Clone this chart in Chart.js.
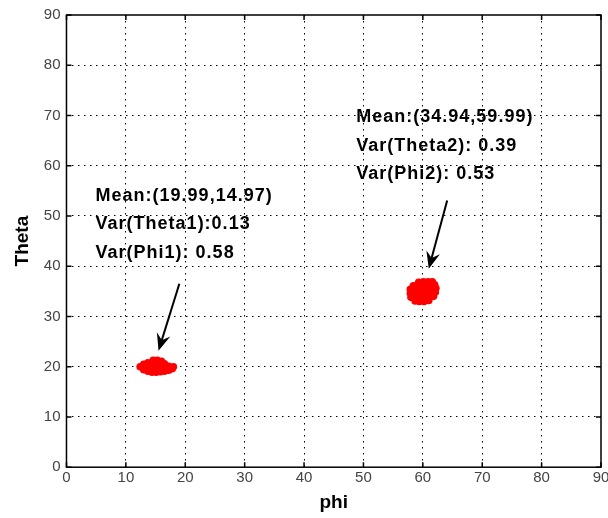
<!DOCTYPE html>
<html>
<head>
<meta charset="utf-8">
<script src="https://cdn.jsdelivr.net/npm/chart.js@4/dist/chart.umd.min.js"></script>
<style>
  html, body { margin: 0; padding: 0; background: #fff; }
  #wrap { width: 608px; height: 518px; }
</style>
</head>
<body>
<div id="wrap"><canvas id="grafico"></canvas></div>
<script>
// ticks
const ticksPhi = [0, 10, 20, 30, 40, 50, 60, 70, 80, 90];
const ticksTheta = [0, 10, 20, 30, 40, 50, 60, 70, 80, 90];

// cluster 1 (phi, theta)
const cluster1 = [
  [12.4, 20.0], [13.0, 19.4], [13.0, 20.5], [13.7, 19.1], [13.7, 19.9], [13.7, 20.8],
  [14.4, 18.9], [14.4, 19.7], [14.4, 20.5], [14.6, 21.3], [15.1, 18.9], [15.1, 19.7],
  [15.1, 20.5], [15.3, 21.3], [15.8, 19.0], [15.8, 19.8], [15.8, 20.6], [16.0, 21.1],
  [16.5, 19.1], [16.5, 19.9], [16.5, 20.6], [17.2, 19.3], [17.2, 20.1], [17.8, 19.6],
  [18.0, 20.0]
];

// cluster 2 (phi, theta)
const cluster2 = [
  [58.7, 33.1], [59.4, 33.0], [60.2, 33.0], [61.0, 33.2],
  [58.0, 33.8], [58.7, 33.8], [59.5, 33.8], [60.3, 33.8], [61.1, 33.8], [61.8, 34.0],
  [57.9, 34.6], [58.6, 34.6], [59.3, 34.6], [60.1, 34.6], [60.9, 34.6], [61.7, 34.6], [62.1, 34.8],
  [57.9, 35.4], [58.6, 35.4], [59.4, 35.4], [60.2, 35.4], [61.0, 35.4], [61.8, 35.4], [62.2, 35.6],
  [58.4, 36.1], [59.1, 36.2], [59.9, 36.2], [60.7, 36.2], [61.5, 36.2], [62.0, 36.3],
  [59.3, 36.8], [60.1, 36.9], [60.9, 36.9], [61.6, 36.9]
];

// annotations
const notes1 = ['Mean:(19.99,14.97)', 'Var(Theta1):0.13', 'Var(Phi1): 0.58'];
const notes2 = ['Mean:(34.94,59.99)', 'Var(Theta2): 0.39', 'Var(Phi2): 0.53'];
const notes1Pos = [4.9, 54.0];
const notes2Pos = [48.8, 69.6];
const arrow1 = [[19.0, 36.5], [15.5, 23.2]];
const arrow2 = [[64.1, 53.1], [61.0, 39.5]];

function toXY(arr) {
  return arr.map(p => ({ x: p[0], y: p[1] }));
}

// frame, inner ticks, notes and arrows
const decor = {
  id: 'decor',
  afterDraw(chart) {
    const ctx = chart.ctx;
    const a = chart.chartArea;
    const xs = chart.scales.x;
    const ys = chart.scales.y;
    ctx.save();
    ctx.strokeStyle = '#000';
    ctx.lineWidth = 1.5;
    ctx.strokeRect(a.left, a.top, a.right - a.left, a.bottom - a.top);

    // inner tick marks
    ctx.lineWidth = 1.5;
    ticksPhi.forEach(v => {
      const px = xs.getPixelForValue(v);
      ctx.beginPath();
      ctx.moveTo(px, a.bottom); ctx.lineTo(px, a.bottom - 5);
      ctx.moveTo(px, a.top); ctx.lineTo(px, a.top + 5);
      ctx.stroke();
    });
    ticksTheta.forEach(v => {
      const py = ys.getPixelForValue(v);
      ctx.beginPath();
      ctx.moveTo(a.left, py); ctx.lineTo(a.left + 5, py);
      ctx.moveTo(a.right, py); ctx.lineTo(a.right - 5, py);
      ctx.stroke();
    });

    // text
    ctx.fillStyle = '#000';
    ctx.font = 'bold 18px "Liberation Sans", Arial, sans-serif';
    ctx.letterSpacing = '1px';
    ctx.textBaseline = 'middle';
    ctx.textAlign = 'left';
    [[notes1, notes1Pos], [notes2, notes2Pos]].forEach(([lines, pos]) => {
      const x0 = xs.getPixelForValue(pos[0]);
      const y0 = ys.getPixelForValue(pos[1]);
      lines.forEach((t, i) => ctx.fillText(t, x0, y0 + i * 28.5));
    });
    ctx.letterSpacing = '0px';

    // arrows (barbed head)
    [arrow1, arrow2].forEach(ar => {
      const x1 = xs.getPixelForValue(ar[0][0]), y1 = ys.getPixelForValue(ar[0][1]);
      const x2 = xs.getPixelForValue(ar[1][0]), y2 = ys.getPixelForValue(ar[1][1]);
      const ang = Math.atan2(y2 - y1, x2 - x1);
      const c = Math.cos(ang), s = Math.sin(ang);
      const hl = 17, hw = 7, back = 11;
      const bx = x2 - hl * c, by = y2 - hl * s;
      const mx = x2 - back * c, my = y2 - back * s;
      ctx.lineWidth = 2;
      ctx.beginPath();
      ctx.moveTo(x1, y1); ctx.lineTo(mx, my);
      ctx.stroke();
      ctx.beginPath();
      ctx.moveTo(x2, y2);
      ctx.lineTo(bx + hw * s, by - hw * c);
      ctx.lineTo(mx, my);
      ctx.lineTo(bx - hw * s, by + hw * c);
      ctx.closePath();
      ctx.fill();
    });
    ctx.restore();
  }
};

const edgeColor = c => (c.tick && (c.tick.value === 0 || c.tick.value === 90)) ? 'rgba(0,0,0,0)' : '#000';

const ctx = document.getElementById('grafico').getContext('2d');
const grafico = new Chart(ctx, {
  type: 'scatter',
  data: {
    datasets: [
      {
        label: 'cluster 1',
        data: toXY(cluster1),
        backgroundColor: '#ff0000',
        borderColor: '#ff0000',
        pointRadius: 3.8,
        pointBorderWidth: 0
      },
      {
        label: 'cluster 2',
        data: toXY(cluster2),
        backgroundColor: '#ff0000',
        borderColor: '#ff0000',
        pointRadius: 3.8,
        pointBorderWidth: 0
      }
    ]
  },
  options: {
    responsive: true,
    maintainAspectRatio: false,
    animation: false,
    layout: { padding: { top: 15, right: 0, left: 11, bottom: 4 } },
    plugins: { legend: { display: false }, tooltip: { enabled: false } },
    scales: {
      x: {
        type: 'linear',
        min: 0, max: 90,
        afterBuildTicks: s => { s.ticks = ticksPhi.map(v => ({ value: v })); },
        afterFit: s => { s.paddingRight = 7; },
        ticks: { color: '#444', font: { size: 15, family: '"Liberation Sans", Arial, sans-serif' }, padding: 2 },
        grid: { color: edgeColor, lineWidth: 1, drawTicks: false },
        border: { display: false, dash: [1.5, 4.5] },
        title: { display: true, text: 'phi', color: '#000', font: { size: 19, weight: 'bold', family: '"Liberation Sans", Arial, sans-serif' }, padding: { top: 2, bottom: 0 } }
      },
      y: {
        type: 'linear',
        min: 0, max: 90,
        afterBuildTicks: s => { s.ticks = ticksTheta.map(v => ({ value: v })); },
        ticks: { color: '#444', font: { size: 15, family: '"Liberation Sans", Arial, sans-serif' }, padding: 6 },
        grid: { color: edgeColor, lineWidth: 1, drawTicks: false },
        border: { display: false, dash: [1.5, 4.5] },
        title: { display: true, text: 'Theta', color: '#000', font: { size: 19, weight: 'bold', family: '"Liberation Sans", Arial, sans-serif' }, padding: { top: 0, bottom: 4 } }
      }
    }
  },
  plugins: [decor]
});
</script>
</body>
</html>
